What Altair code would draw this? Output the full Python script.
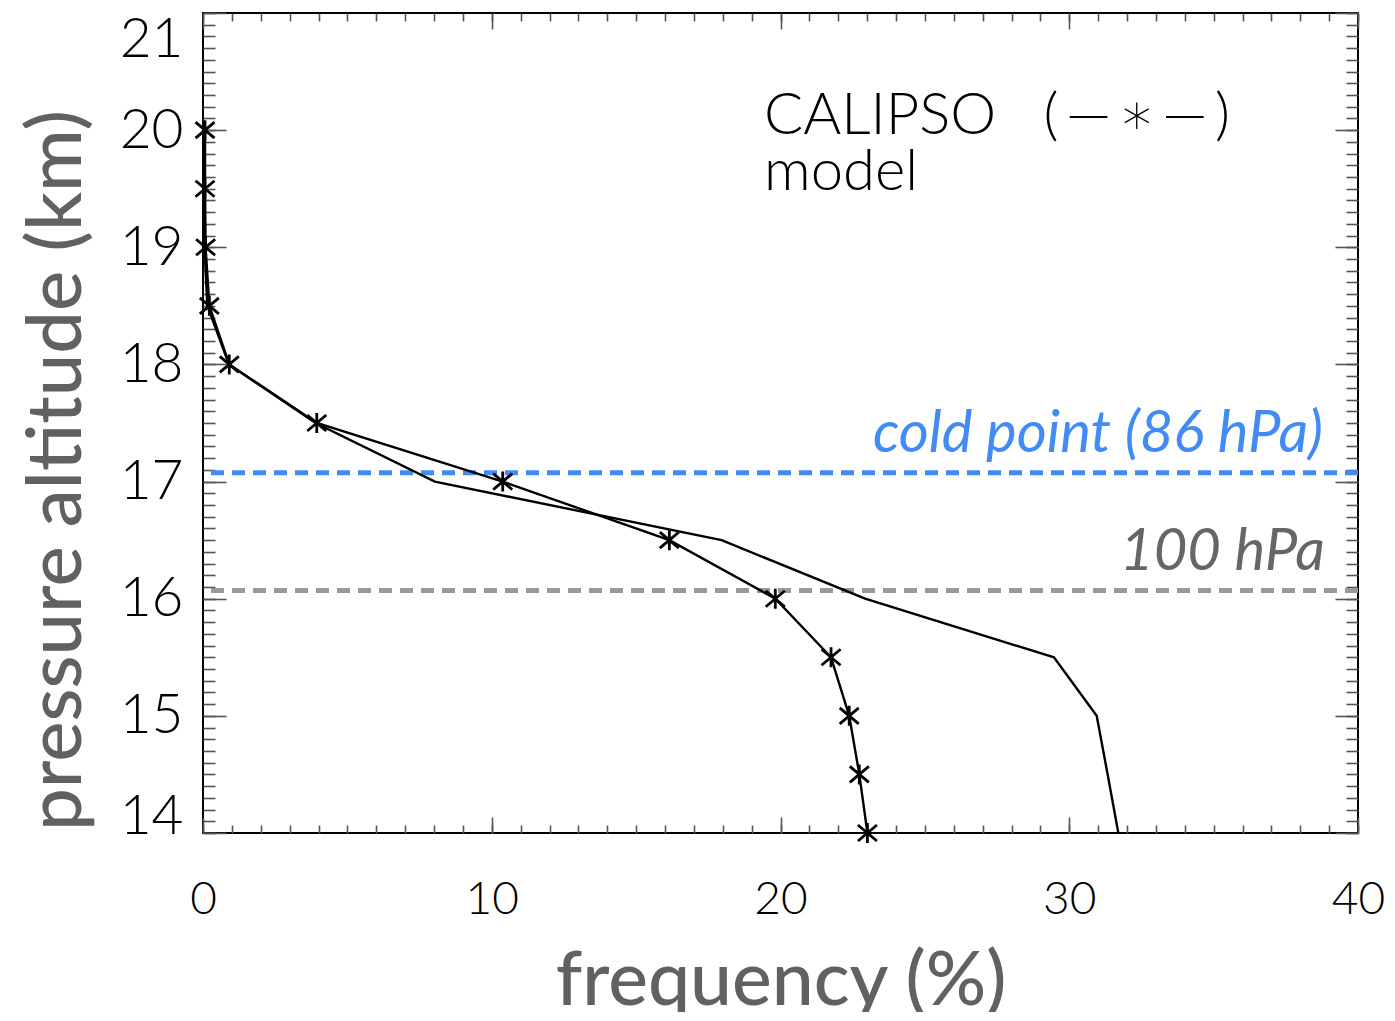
import altair as alt
import pandas as pd

# ---------------- data ----------------
alt_km = [20.0, 19.5, 19.0, 18.5, 18.0, 17.5, 17.0, 16.5, 16.0, 15.5, 15.0, 14.5, 14.0]
calipso_freq = [0.07, 0.07, 0.09, 0.22, 0.91, 3.94, 10.38, 16.15, 19.82, 21.75, 22.38, 22.73, 23.01]
model_freq = [0.05, 0.05, 0.05, 0.15, 0.90, 3.90, 8.03, 17.96, 22.93, 29.47, 30.95, 31.33, 31.70]

x_major = [0, 10, 20, 30, 40]
x_minor = list(range(0, 41))
y_major = [14, 15, 16, 17, 18, 19, 20, 21]
y_minor = [round(14 + i * 0.1, 1) for i in range(71)]

ref_alt = [17.075, 16.07]
ref_color = ["#428bf5", "#999999"]

NB = "\u00a0"
TS = "\u2009"
legend_text = ["CALIPSO" + NB * 3 + "(" + TS + "—" + TS + "∗" + TS + "—" + TS + ")", "model"]
legend_x = [19.43, 19.43]
legend_y = [19.97, 19.49]

lab_text = ["cold point (86 hPa)", "100 hPa"]
lab_x = [38.79, 38.85]
lab_y = [17.255, 16.245]
lab_color = ["#428bf5", "#666666"]

calipso_df = pd.DataFrame({"alt": alt_km, "freq": calipso_freq})
model_df = pd.DataFrame({"alt": alt_km, "freq": model_freq})
ref_df = pd.DataFrame({"alt": ref_alt, "color": ref_color})
legend_df = pd.DataFrame({"t": legend_text, "x": legend_x, "y": legend_y})
lab_df = pd.DataFrame({"t": lab_text, "x": lab_x, "y": lab_y, "c": lab_color})

xs = alt.Scale(domain=[0, 40], nice=False, zero=False)
ys = alt.Scale(domain=[14, 21], nice=False, zero=False)

TICK_COLOR = "#555555"
LABEL_FONT = "Lato"
TITLE_COLOR = "#616161"


def xaxis(orient, values, size, labels=False, title=None):
    kw = dict(orient=orient, values=values, offset=-size, tickSize=size,
              tickColor=TICK_COLOR, tickWidth=1.6, domain=False, grid=False,
              labels=labels, title=title)
    if labels:
        kw.update(labelFont=LABEL_FONT, labelFontSize=46, labelFontWeight=300,
                  labelColor="black", labelPadding=44, labelFlush=False,
                  titleFont=LABEL_FONT, titleFontSize=75, titleFontWeight=500,
                  titleColor=TITLE_COLOR, titlePadding=23)
    return alt.Axis(**kw)


def yaxis(orient, values, size, labels=False, title=None):
    kw = dict(orient=orient, values=values, offset=-size, tickSize=size,
              tickColor=TICK_COLOR, tickWidth=1.6, domain=False, grid=False,
              labels=labels, title=title)
    if labels:
        kw.update(labelFont=LABEL_FONT, labelFontSize=55, labelFontWeight=300,
                  labelColor="black", labelPadding=20,
                  labelBaseline={"condition": [
                      {"test": "datum.value === 21", "value": "top"},
                      {"test": "datum.value === 14", "value": "alphabetic"}],
                      "value": "middle"},
                  titleFont=LABEL_FONT, titleFontSize=76, titleFontWeight=500,
                  titleColor=TITLE_COLOR, titlePadding=23, titleY=457)
    return alt.Axis(**kw)


def axis_layer(xa, ya):
    return alt.Chart(calipso_df).mark_point(opacity=0).encode(
        x=alt.X("freq:Q", scale=xs, axis=xa),
        y=alt.Y("alt:Q", scale=ys, axis=ya),
    )


axes = [
    axis_layer(xaxis("bottom", x_major, 16, True, "frequency (%)"),
               yaxis("left", y_major, 23, True, "pressure altitude (km)")),
    axis_layer(xaxis("bottom", x_minor, 8), yaxis("left", y_minor, 12)),
    axis_layer(xaxis("top", x_major, 16), yaxis("right", y_major, 23)),
    axis_layer(xaxis("top", x_minor, 8), yaxis("right", y_minor, 12)),
]

rules = alt.Chart(ref_df).mark_rule(strokeDash=[13, 8], strokeWidth=5).encode(
    y=alt.Y("alt:Q", scale=ys, axis=None),
    color=alt.Color("color:N", scale=None),
)

model_line = alt.Chart(model_df).mark_line(color="black", strokeWidth=2.4).encode(
    x=alt.X("freq:Q", scale=xs, axis=None),
    y=alt.Y("alt:Q", scale=ys, axis=None),
    order=alt.Order("alt:Q"),
)

calipso_line = alt.Chart(calipso_df).mark_line(color="black", strokeWidth=2.4).encode(
    x=alt.X("freq:Q", scale=xs, axis=None),
    y=alt.Y("alt:Q", scale=ys, axis=None),
    order=alt.Order("alt:Q"),
)

ASTERISK = "M0,-1L0,1M-0.95,-0.8L0.95,0.8M-0.95,0.8L0.95,-0.8"
calipso_pts = alt.Chart(calipso_df).mark_point(
    shape=ASTERISK, size=400, filled=False, stroke="black", strokeWidth=2.8, opacity=1
).encode(
    x=alt.X("freq:Q", scale=xs, axis=None),
    y=alt.Y("alt:Q", scale=ys, axis=None),
)

legend = alt.Chart(legend_df).mark_text(
    align="left", baseline="alphabetic", font="Lato, 'DejaVu Sans'", fontSize=58,
    fontWeight=300, color="black"
).encode(
    x=alt.X("x:Q", scale=xs, axis=None),
    y=alt.Y("y:Q", scale=ys, axis=None),
    text="t:N",
)

labels = alt.Chart(lab_df).mark_text(
    align="right", baseline="alphabetic", font=LABEL_FONT, fontSize=58,
    fontStyle="italic", fontWeight=400
).encode(
    x=alt.X("x:Q", scale=xs, axis=None),
    y=alt.Y("y:Q", scale=ys, axis=None),
    text="t:N",
    color=alt.Color("c:N", scale=None),
)

chart = alt.layer(
    *axes, rules, model_line, calipso_line, calipso_pts, legend, labels
).resolve_axis(x="independent", y="independent").properties(
    width=1155,
    height=820,
    autosize=alt.AutoSizeParams(type="none"),
    padding={"left": 195, "top": 5, "right": 29, "bottom": 179},
).configure_view(stroke="black", strokeWidth=2)

chart.save("out.html", embed_options={"renderer": "svg", "actions": False})
